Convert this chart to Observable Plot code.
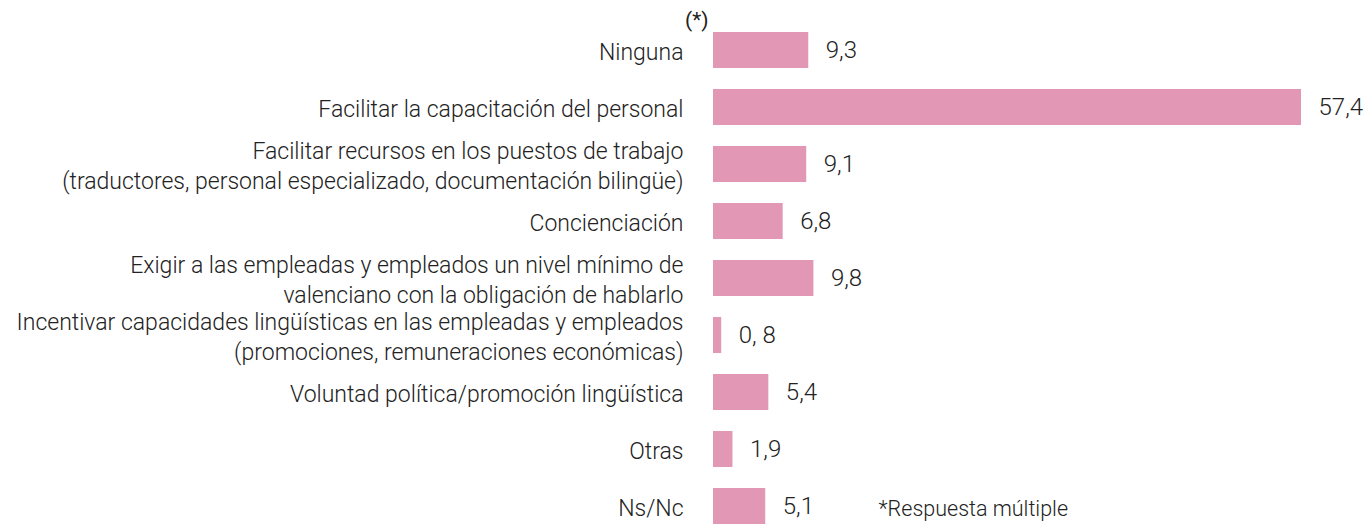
<!DOCTYPE html>
<html>
<head>
<meta charset="utf-8">
<script src="https://cdn.jsdelivr.net/npm/d3@7"></script>
<script src="https://cdn.jsdelivr.net/npm/@observablehq/plot@0.6"></script>
<style>
  html, body { margin: 0; padding: 0; background: #fff; }
  #chart svg { display: block; }
</style>
</head>
<body>
<div id="chart"></div>
<script>
const categories = [
  "Ninguna",
  "Facilitar la capacitación del personal",
  "Facilitar recursos en los puestos de trabajo\n(traductores, personal especializado, documentación bilingüe)",
  "Concienciación",
  "Exigir a las empleadas y empleados un nivel mínimo de\nvalenciano con la obligación de hablarlo",
  "Incentivar capacidades lingüísticas en las empleadas y empleados\n(promociones, remuneraciones económicas)",
  "Voluntad política/promoción lingüística",
  "Otras",
  "Ns/Nc"
];
const values = [9.3, 57.4, 9.1, 6.8, 9.8, 0.8, 5.4, 1.9, 5.1];
const valueLabels = ["9,3", "57,4", "9,1", "6,8", "9,8", "0, 8", "5,4", "1,9", "5,1"];
const footnote = "*Respuesta múltiple";
const multipleMark = "(*)";

const data = categories.map((c, i) => ({cat: c, value: values[i], label: valueLabels[i]}));

const font = "Roboto, sans-serif";

const chart = Plot.plot({
  width: 1369,
  height: 525,
  marginLeft: 713,
  marginRight: 68,
  marginTop: 0,
  marginBottom: 0,
  style: {fontFamily: font, fontWeight: 300, color: "#222", background: "#fff"},
  x: {domain: [0, 57.4], axis: null},
  y: {domain: categories, range: [30, 526], paddingInner: 0.375, paddingOuter: 0, label: null},
  marks: [
    Plot.barX(data, {x: "value", y: "cat", fill: "#E298B4"}),
    Plot.text(data, {x: "value", y: "cat", text: "label", textAnchor: "start", dx: 17,
      fontSize: 24, fill: "#222", fontWeight: 300}),
    Plot.axisY({tickSize: 0, tickPadding: 30, fontSize: 23, lineHeight: 1.3, label: null,
      fill: "#222", fontWeight: 300}),
    Plot.text([categories[0]], {x: () => 0, y: d => d, text: () => multipleMark, textAnchor: "end",
      dx: -5, dy: -30, fontSize: 21, fill: "#222", fontWeight: 400}),
    Plot.text([categories[8]], {x: () => 0, y: d => d, text: () => footnote, textAnchor: "start",
      dx: 165, dy: 3, fontSize: 21.5, fill: "#222", fontWeight: 300})
  ]
});
document.getElementById("chart").appendChild(chart);
</script>
</body>
</html>
